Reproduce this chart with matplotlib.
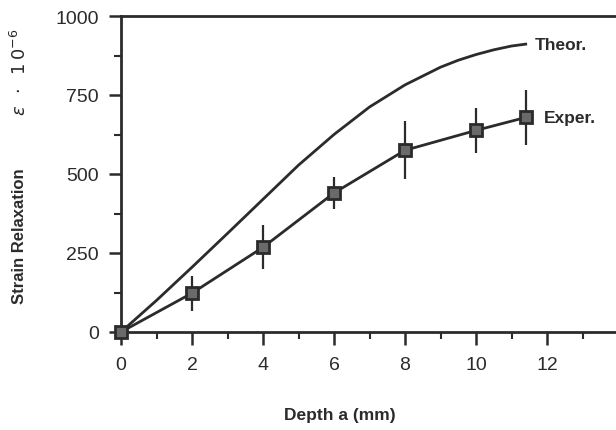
import numpy as np
import matplotlib
matplotlib.use("Agg")
import matplotlib.pyplot as plt
from matplotlib.ticker import MultipleLocator

# Data
theor_x = [0, 1, 2, 3, 4, 5, 6, 7, 8, 9, 9.5, 10, 10.5, 11, 11.4]
theor_y = [0, 100, 205, 312, 420, 528, 625, 712, 782, 838, 860, 878, 893, 905, 911]

exper_x = [0, 2, 4, 6, 8, 10, 11.4]
exper_y = [0, 123, 268, 440, 575, 638, 679]
exper_err = [0, 55, 70, 50, 92, 72, 87]

xticks = [0, 2, 4, 6, 8, 10, 12]
yticks = [0, 250, 500, 750, 1000]

plt.rcParams['font.family'] = ['Liberation Sans', 'DejaVu Sans']

W, H = 616, 431
fig = plt.figure(figsize=(W / 100, H / 100), dpi=100)
x0, x1 = 121, 618
y0, y1 = 333, 17
ax = fig.add_axes([x0 / W, 1 - y0 / H, (x1 - x0) / W, (y0 - y1) / H])
ax.set_xlim(0, 14)
ax.set_ylim(0, 1000)

col = '#2b2b2b'
ax.plot(theor_x, theor_y, color=col, lw=2.0, zorder=3)
ax.errorbar(exper_x, exper_y, yerr=exper_err, color=col, lw=2.0, elinewidth=1.6,
            capsize=0, marker='s', markersize=9, markerfacecolor='#6a6a6a',
            markeredgecolor=col, markeredgewidth=2.0, zorder=4, clip_on=False)

ax.text(11.66, 911, 'Theor.', fontsize=12.5, fontweight='bold', color=col,
        va='center', ha='left')
ax.text(11.9, 679, 'Exper.', fontsize=12.5, fontweight='bold', color=col,
        va='center', ha='left')

for s in ['right']:
    ax.spines[s].set_visible(False)
for s in ['left', 'bottom', 'top']:
    ax.spines[s].set_linewidth(2.0)
    ax.spines[s].set_color(col)

ax.set_xticks(xticks)
ax.set_yticks(yticks)
ax.xaxis.set_minor_locator(MultipleLocator(1))
ax.yaxis.set_minor_locator(MultipleLocator(125))
ax.tick_params(axis='both', which='major', direction='out', length=9, width=1.8,
               color=col, labelsize=14, labelcolor=col)
ax.tick_params(axis='both', which='minor', direction='out', length=5, width=1.5,
               color=col)
ax.tick_params(axis='x', which='major', pad=8)
ax.tick_params(axis='y', which='major', pad=7)
ax.tick_params(top=False, right=False, which='both')

ax.set_xlabel('Depth a (mm)', fontsize=12.5, fontweight='bold', color=col)
ax.xaxis.label.set_va('center')
ax.xaxis.set_label_coords(((340 - x0) / (x1 - x0)), -(416 - y0) / (y0 - y1))

fig.text(20 / W, 1 - 236 / H, 'Strain Relaxation', rotation=90, fontsize=12,
         fontweight='bold', color=col, ha='center', va='center')
fig.text(20 / W, 1 - 72 / H, r'$\varepsilon\;\;\cdot\;\;1\,0^{-6}$', rotation=90,
         fontsize=13, color=col, ha='center', va='center')

fig.savefig('out.png', dpi=100, facecolor='white')
